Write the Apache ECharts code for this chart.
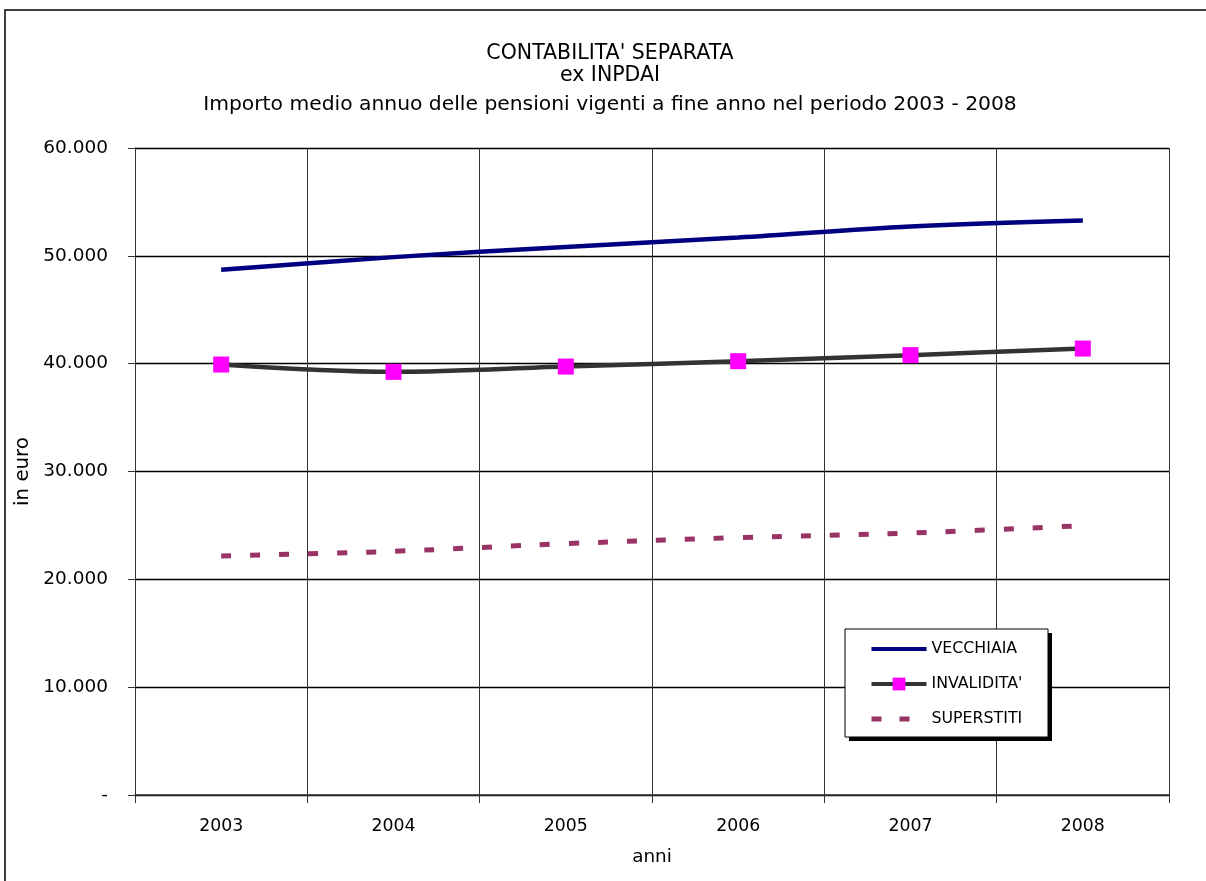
<!DOCTYPE html>
<html><head><meta charset="utf-8">
<script src="https://cdn.jsdelivr.net/npm/echarts@6/dist/echarts.min.js"></script>
<style>html,body{margin:0;padding:0;background:#fff}#c{width:1206px;height:881px}</style>
</head><body><div id="c"></div>
<script>
var categories = ['2003','2004','2005','2006','2007','2008'];
var vecchiaia = [48700, 49880, 50830, 51700, 52720, 53270];
var invalidita = [39920, 39240, 39730, 40230, 40790, 41400];
var superstiti = [22170, 22600, 23310, 23870, 24300, 24980];
var titleLines = ["CONTABILITA' SEPARATA", "ex INPDAI", "Importo medio annuo delle pensioni vigenti a fine anno nel periodo 2003 - 2008"];

var FONT = 'DejaVu Sans';
var chart = echarts.init(document.getElementById('c'), null, {renderer:'canvas'});
function fmt(v){ if(v===0) return '-'; return String(v).replace(/\B(?=(\d{3})+(?!\d))/g,'.'); }
var titleCenters = [54, 76, 105];
var titleSizes = [20.5, 20.5, 20.3];
var graphics = [
  {type:'rect',z:3,shape:{x:5,y:10,width:1220,height:900},style:{fill:'none',stroke:'#000',lineWidth:1.5},silent:true},
  {type:'rect',z:3,shape:{x:849,y:633,width:203,height:108},style:{fill:'#000'},silent:true},
  {type:'rect',z:3,shape:{x:845,y:629,width:203,height:108},style:{fill:'#fff',stroke:'#000',lineWidth:1},silent:true}
];
titleLines.forEach(function(t,i){
  graphics.push({type:'text',z:3,silent:true,x:610,y:titleCenters[i],
    style:{text:t,align:'center',verticalAlign:'middle',fill:'#000',
      font:'normal '+titleSizes[i]+'px "'+FONT+'"'}});
});
chart.setOption({
  animation:false,
  backgroundColor:'#fff',
  graphic:graphics,
  grid:{left:135,right:37,top:148,bottom:86},
  legend:{orient:'vertical',left:845,top:629,z:5,
    padding:[12,20,10,24],itemGap:19,itemWidth:55,itemHeight:16,
    textStyle:{fontFamily:FONT,fontSize:15.8,color:'#000'},
    data:[
      {name:'VECCHIAIA',itemStyle:{opacity:0},lineStyle:{width:4}},
      {name:"INVALIDITA'",lineStyle:{width:4}},
      {name:'SUPERSTITI',itemStyle:{opacity:0},lineStyle:{width:5,type:[10,18]}}
    ]},
  xAxis:{type:'category',data:categories,boundaryGap:true,
    name:'anni',nameLocation:'middle',nameGap:53,
    nameTextStyle:{fontFamily:FONT,fontSize:18.4,color:'#000'},
    axisLine:{lineStyle:{color:'#333',width:1.5}},
    axisTick:{show:true,length:8,lineStyle:{color:'#333'}},
    axisLabel:{fontFamily:FONT,fontSize:17.3,color:'#000',margin:23},
    splitLine:{show:true,lineStyle:{color:'#333',width:1}}},
  yAxis:{type:'value',min:0,max:60000,interval:10000,
    name:'in euro',nameLocation:'middle',nameGap:93,
    nameTextStyle:{fontFamily:FONT,fontSize:19.8,color:'#000'},
    axisLine:{show:true,lineStyle:{color:'#333',width:1}},
    axisTick:{show:true,length:7,lineStyle:{color:'#333'}},
    axisLabel:{fontFamily:FONT,fontSize:18.5,color:'#000',margin:27,formatter:fmt},
    splitLine:{show:true,lineStyle:{color:'#000',width:1.3}}},
  series:[
    {name:'VECCHIAIA',type:'line',data:vecchiaia,smooth:0.35,symbol:'none',
      lineStyle:{color:'#000080',width:4.5},itemStyle:{color:'#000080'}},
    {name:"INVALIDITA'",type:'line',data:invalidita,smooth:0.35,symbol:'rect',symbolSize:16,showAllSymbol:true,
      lineStyle:{color:'#333333',width:4.5},itemStyle:{color:'#ff00ff'}},
    {name:'SUPERSTITI',type:'line',data:superstiti,smooth:0.35,symbol:'none',
      lineStyle:{color:'#993366',width:5,type:[10,19]},itemStyle:{color:'#993366'}}
  ]
});
</script></body></html>
